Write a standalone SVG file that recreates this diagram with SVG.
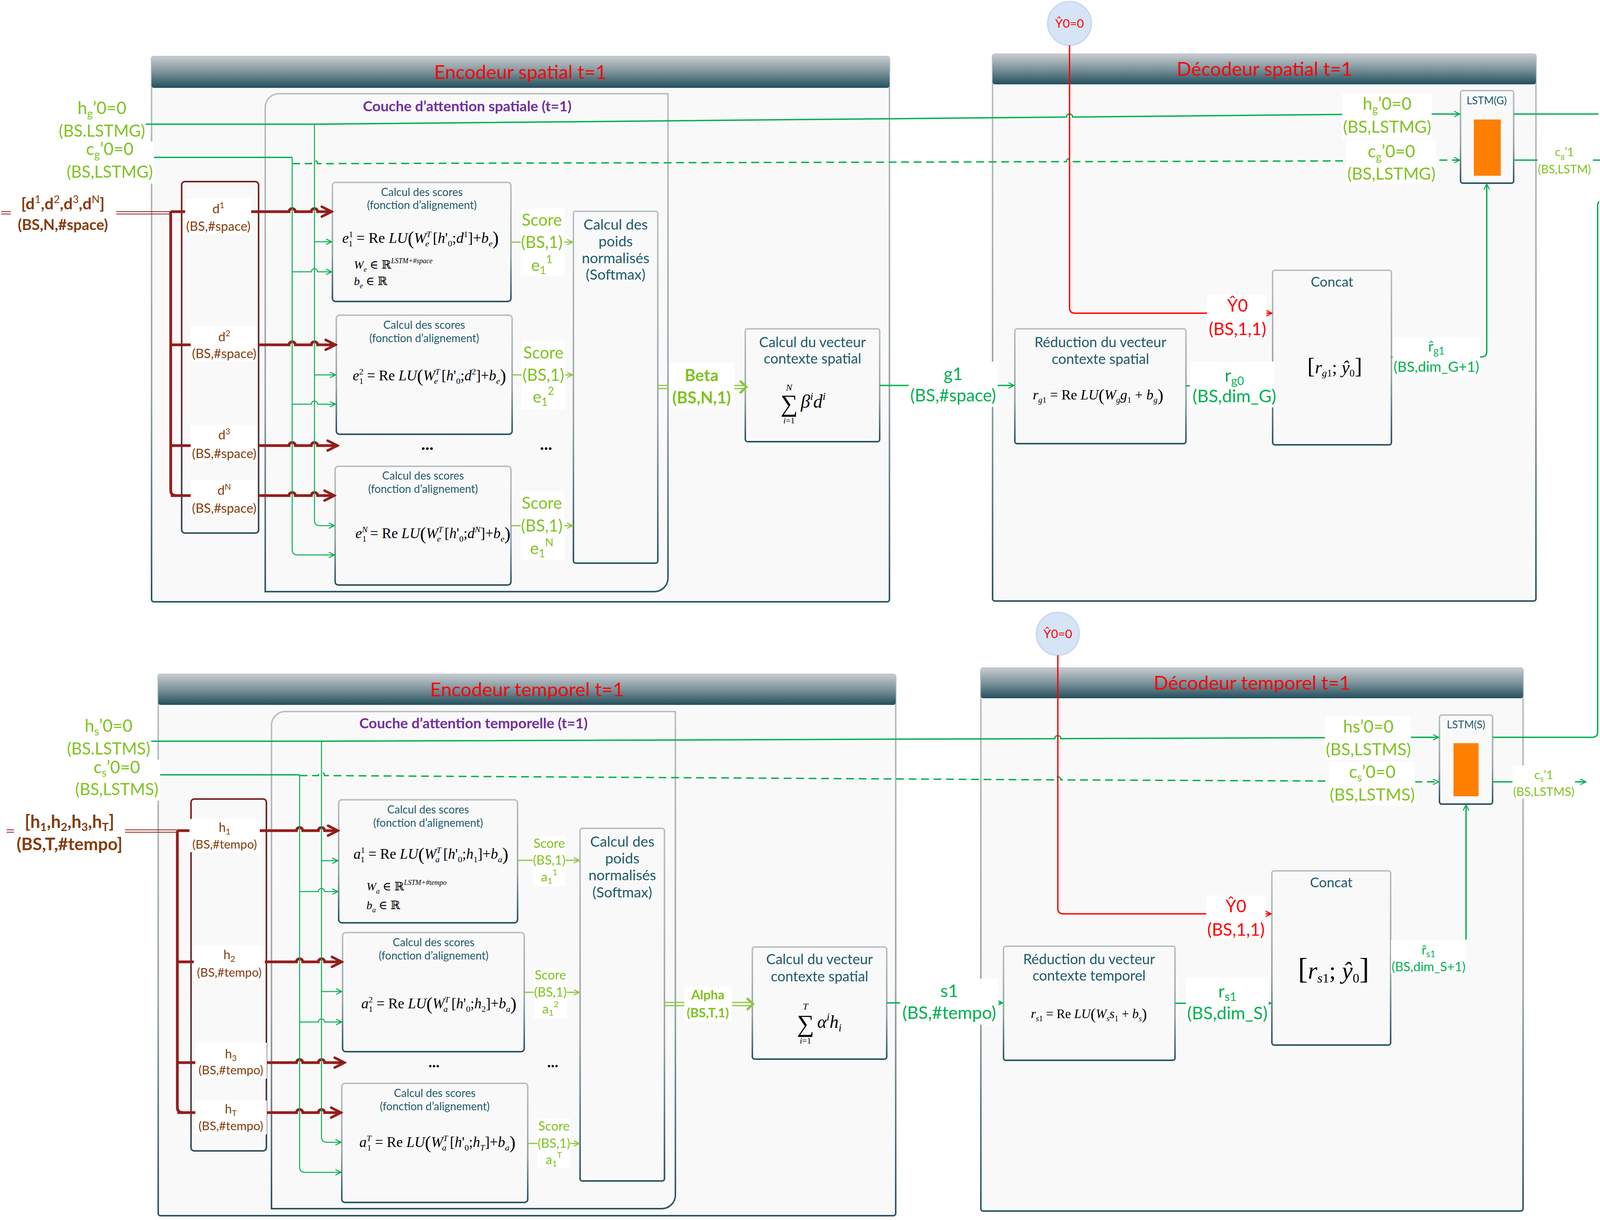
<svg xmlns="http://www.w3.org/2000/svg" width="5550" height="3124" viewBox="0 0 5550 3124">
<defs>
<linearGradient id="gh" x1="0" y1="0" x2="0" y2="1"><stop offset="0" stop-color="#c6cbcf"/><stop offset="0.5" stop-color="#7b929a"/><stop offset="1" stop-color="#23505e"/></linearGradient>
<linearGradient id="gs" x1="0" y1="0" x2="0" y2="1"><stop offset="0" stop-color="#bcc1c5"/><stop offset="0.6" stop-color="#9ba6ab"/><stop offset="1" stop-color="#2c5563"/></linearGradient>
<linearGradient id="gd" x1="0" y1="0" x2="0" y2="1"><stop offset="0" stop-color="#7a1f1f"/><stop offset="0.7" stop-color="#5a3030"/><stop offset="1" stop-color="#34505a"/></linearGradient>
<marker id="mg" viewBox="0 0 10 10" refX="9" refY="5" markerWidth="18" markerHeight="18" markerUnits="userSpaceOnUse" orient="auto"><path d="M1,1 L9,5 L1,9" fill="none" stroke="#00b050" stroke-width="1.4"/></marker>
<marker id="ml" viewBox="0 0 10 10" refX="9" refY="5" markerWidth="18" markerHeight="18" markerUnits="userSpaceOnUse" orient="auto"><path d="M1,1 L9,5 L1,9" fill="none" stroke="#8cc63f" stroke-width="1.4"/></marker>
<marker id="mr" viewBox="0 0 10 10" refX="9" refY="5" markerWidth="20" markerHeight="20" markerUnits="userSpaceOnUse" orient="auto"><path d="M1,1 L9,5 L1,9" fill="none" stroke="#ff0000" stroke-width="1.4"/></marker>
<marker id="md" viewBox="0 0 10 10" refX="8.5" refY="5" markerWidth="36" markerHeight="36" markerUnits="userSpaceOnUse" orient="auto"><path d="M1.5,1.5 L8.5,5 L1.5,8.5" fill="none" stroke="#951c1c" stroke-width="1.8" stroke-linecap="round"/></marker>
<style>
.t{font-family:Lato,"Open Sans","DejaVu Sans",sans-serif}
.f{font-family:"Liberation Serif","DejaVu Serif",serif;fill:#000}
.i{font-style:italic}
.box{fill:#f9f9f9;stroke:url(#gs);stroke-width:4}
.hdr{fill:url(#gh)}
.bg{fill:#ffffff}
.tl{fill:#1f5b6b;text-anchor:middle}
.lg{fill:#7fc31f;text-anchor:middle}
.mgt{fill:#00b050;text-anchor:middle}
.rt{fill:#ff0000;text-anchor:middle}
.br{fill:#843c0c;text-anchor:middle}
.pu{fill:#7030a0;text-anchor:middle;font-weight:bold}
.cg{fill:none;stroke:#00b050;stroke-width:3.5}
.cv{fill:none;stroke:#00b050;stroke-width:2.5}
.cl{fill:none;stroke:#8cc63f;stroke-width:3}
.cd{fill:none;stroke:#951c1c;stroke-width:7}
.cr{fill:none;stroke:#ff0000;stroke-width:3.5}
.dash{stroke-dasharray:20 12}
.circ{fill:#d6e4f5;stroke:#c3d6ee;stroke-width:3}
</style>
</defs>
<rect width="5550" height="3124" fill="#ffffff"/>

<!-- containers -->
<g id="encodeur-spatial">
<rect class="box" x="388" y="145" width="1889" height="1396" rx="6"/>
<rect class="hdr" x="388" y="145" width="1889" height="80" rx="6"/>
<text class="t rt" x="1332" y="202" font-size="49">Encodeur spatial t=1</text>
</g>
<g id="couche-spatiale">
<path class="box" d="M679,275 A35,35 0 0 1 714,240 H1710 V1480 A35,35 0 0 1 1675,1515 H679 Z"/>
<text class="t pu" x="1196" y="285" font-size="37">Couche d’attention spatiale (t=1)</text>
</g>
<g id="decodeur-spatial">
<rect class="box" x="2541" y="139" width="1391" height="1400" rx="6"/>
<rect class="hdr" x="2541" y="139" width="1391" height="77" rx="6"/>
<text class="t rt" x="3237" y="194" font-size="49">Décodeur spatial t=1</text>
</g>
<g id="encodeur-temporel">
<rect class="box" x="405" y="1727" width="1888" height="1386" rx="6"/>
<rect class="hdr" x="405" y="1727" width="1888" height="78" rx="6"/>
<text class="t rt" x="1349" y="1783" font-size="49">Encodeur temporel t=1</text>
</g>
<g id="couche-temporelle">
<path class="box" d="M695,1857 A35,35 0 0 1 730,1822 H1729 V3060 A35,35 0 0 1 1694,3095 H695 Z"/>
<text class="t pu" x="1212" y="1865" font-size="37">Couche d’attention temporelle (t=1)</text>
</g>
<g id="decodeur-temporel">
<rect class="box" x="2511" y="1711" width="1388" height="1390" rx="6"/>
<rect class="hdr" x="2511" y="1711" width="1388" height="77" rx="6"/>
<text class="t rt" x="3205" y="1766" font-size="49">Décodeur temporel t=1</text>
</g>

<!-- inner nodes -->
<g id="d-box"><rect x="465" y="465" width="197" height="900" rx="8" fill="none" stroke="url(#gd)" stroke-width="4"/></g>
<g id="h-box"><rect x="489" y="2046" width="193" height="901" rx="8" fill="none" stroke="url(#gd)" stroke-width="4"/></g>

<g id="score-e1">
<rect class="box" x="851" y="467" width="457" height="305" rx="8"/>
<text class="t tl" x="1080" y="502" font-size="28">Calcul des scores</text>
<text class="t tl" x="1080" y="535" font-size="28">(fonction d’alignement)</text>
<text class="f" x="876" y="622" font-size="38"><tspan class="i">e</tspan><tspan font-size="22" dy="-15">1</tspan><tspan font-size="22" dx="-11" dy="24">1</tspan><tspan dy="-9"> = Re </tspan><tspan class="i">LU</tspan><tspan font-size="48" dy="4">(</tspan><tspan class="i" dy="-4">W</tspan><tspan class="i" font-size="22" dy="-15">T</tspan><tspan class="i" font-size="22" dx="-13" dy="24">e</tspan><tspan dy="-9"> [</tspan><tspan class="i">h</tspan>'<tspan font-size="22" dy="9">0</tspan><tspan dy="-9">;</tspan><tspan class="i">d</tspan><tspan font-size="22" dy="-15">1</tspan><tspan dy="15">]+</tspan><tspan class="i">b</tspan><tspan class="i" font-size="22" dy="9">e</tspan><tspan font-size="48" dy="-5">)</tspan></text>
<text class="f" x="906" y="688" font-size="30"><tspan class="i">W</tspan><tspan class="i" font-size="18" dy="8">e</tspan><tspan dy="-8"> ∈ ℝ</tspan><tspan class="i" font-size="18" dy="-14">LSTM+#space</tspan></text>
<text class="f" x="906" y="730" font-size="30"><tspan class="i">b</tspan><tspan class="i" font-size="18" dy="8">e</tspan><tspan dy="-8"> ∈ ℝ</tspan></text>
</g>
<g id="score-e2">
<rect class="box" x="861" y="807" width="450" height="305" rx="8"/>
<text class="t tl" x="1086" y="842" font-size="28">Calcul des scores</text>
<text class="t tl" x="1086" y="876" font-size="28">(fonction d’alignement)</text>
<text class="f" x="903" y="974" font-size="37"><tspan class="i">e</tspan><tspan font-size="22" dy="-15">2</tspan><tspan font-size="22" dx="-11" dy="24">1</tspan><tspan dy="-9"> = Re </tspan><tspan class="i">LU</tspan><tspan font-size="47" dy="4">(</tspan><tspan class="i" dy="-4">W</tspan><tspan class="i" font-size="22" dy="-15">T</tspan><tspan class="i" font-size="22" dx="-13" dy="24">e</tspan><tspan dy="-9"> [</tspan><tspan class="i">h</tspan>'<tspan font-size="22" dy="9">0</tspan><tspan dy="-9">;</tspan><tspan class="i">d</tspan><tspan font-size="22" dy="-15">2</tspan><tspan dy="15">]+</tspan><tspan class="i">b</tspan><tspan class="i" font-size="22" dy="9">e</tspan><tspan font-size="47" dy="-5">)</tspan></text>
</g>
<g id="score-eN">
<rect class="box" x="858" y="1194" width="450" height="304" rx="8"/>
<text class="t tl" x="1083" y="1228" font-size="28">Calcul des scores</text>
<text class="t tl" x="1083" y="1262" font-size="28">(fonction d’alignement)</text>
<text class="f" x="910" y="1378" font-size="37"><tspan class="i">e</tspan><tspan class="i" font-size="22" dy="-15">N</tspan><tspan font-size="22" dx="-14" dy="24">1</tspan><tspan dy="-9"> = Re </tspan><tspan class="i">LU</tspan><tspan font-size="47" dy="4">(</tspan><tspan class="i" dy="-4">W</tspan><tspan class="i" font-size="22" dy="-15">T</tspan><tspan class="i" font-size="22" dx="-13" dy="24">e</tspan><tspan dy="-9"> [</tspan><tspan class="i">h</tspan>'<tspan font-size="22" dy="9">0</tspan><tspan dy="-9">;</tspan><tspan class="i">d</tspan><tspan class="i" font-size="22" dy="-15">N</tspan><tspan dy="15">]+</tspan><tspan class="i">b</tspan><tspan class="i" font-size="22" dy="9">e</tspan><tspan font-size="47" dy="-5">)</tspan></text>
</g>
<g id="softmax-spatial">
<rect class="box" x="1468" y="541" width="216" height="901" rx="6"/>
<text class="t tl" x="1576" y="588" font-size="37">Calcul des</text>
<text class="t tl" x="1576" y="631" font-size="37">poids</text>
<text class="t tl" x="1576" y="674" font-size="37">normalisés</text>
<text class="t tl" x="1576" y="716" font-size="37">(Softmax)</text>
</g>
<g id="contexte-spatial">
<rect class="box" x="1908" y="842" width="344" height="289" rx="6"/>
<text class="t tl" x="2080" y="889" font-size="36">Calcul du vecteur</text>
<text class="t tl" x="2080" y="931" font-size="36">contexte spatial</text>
<text class="f" x="2020" y="1054" font-size="62" text-anchor="middle">∑</text>
<text class="f i" x="2020" y="1000" font-size="24" text-anchor="middle">N</text>
<text class="f" x="2020" y="1084" font-size="22" text-anchor="middle"><tspan class="i">i</tspan>=1</text>
<text class="f i" x="2050" y="1044" font-size="48">β<tspan font-size="28" dy="-20">i</tspan><tspan dy="20">d</tspan><tspan font-size="28" dy="-20">i</tspan></text>
</g>
<g id="reduction-spatial">
<rect class="box" x="2598" y="842" width="438" height="294" rx="6"/>
<text class="t tl" x="2817" y="889" font-size="36">Réduction du vecteur</text>
<text class="t tl" x="2817" y="932" font-size="36">contexte spatial</text>
<text class="f" x="2644" y="1023" font-size="36"><tspan class="i">r</tspan><tspan class="i" font-size="21" dy="8">g</tspan><tspan font-size="21">1</tspan><tspan dy="-8"> = Re </tspan><tspan class="i">LU</tspan><tspan font-size="45" dy="4">(</tspan><tspan class="i" dy="-4">W</tspan><tspan class="i" font-size="21" dy="8">g</tspan><tspan class="i" dy="-8">g</tspan><tspan font-size="21" dy="8">1</tspan><tspan dy="-8"> + </tspan><tspan class="i">b</tspan><tspan class="i" font-size="21" dy="8">g</tspan><tspan font-size="45" dy="-4">)</tspan></text>
</g>
<g id="concat-spatial">
<rect class="box" x="3258" y="692" width="304" height="447" rx="6"/>
<text class="t tl" x="3410" y="734" font-size="35">Concat</text>
<text class="f" x="3417" y="956" font-size="46" text-anchor="middle"><tspan font-size="58">[</tspan><tspan class="i">r</tspan><tspan class="i" font-size="26" dy="8">g</tspan><tspan font-size="26">1</tspan><tspan dy="-8">; </tspan><tspan class="i">ŷ</tspan><tspan font-size="26" dy="8">0</tspan><tspan font-size="58" dy="-8">]</tspan></text>
</g>
<g id="lstm-g">
<rect class="box" x="3739" y="232" width="136" height="237" rx="6"/>
<text class="t tl" x="3806" y="267" font-size="27">LSTM(G)</text>
<rect x="3773" y="306" width="69" height="144" fill="#ff7f00"/>
</g>
<g id="y0-spatial">
<circle class="circ" cx="2738" cy="60" r="56"/>
<text class="t rt" x="2738" y="71" font-size="31">Ŷ0=0</text>
</g>
<g id="concat-final">
<rect class="box" x="4335" y="179" width="304" height="447" rx="6"/>
<text class="t tl" x="4487" y="221" font-size="34">Concat</text>
<text class="f" x="4487" y="428" font-size="56" text-anchor="middle"><tspan font-size="70">[</tspan><tspan class="i">h</tspan>'<tspan font-size="30" dy="-20">1</tspan><tspan class="i" font-size="30" dx="-14" dy="38">g</tspan><tspan dy="-18">;</tspan><tspan class="i">h</tspan>'<tspan font-size="30" dy="-20">1</tspan><tspan class="i" font-size="30" dx="-14" dy="38">s</tspan><tspan font-size="70" dy="-18">]</tspan></text>
</g>
<g id="generateur">
<rect class="box" x="4987" y="222" width="305" height="360" rx="6"/>
<text class="t tl" x="5140" y="265" font-size="35">Générateur</text>
<path class="box" d="M5005,354 A30,30 0 0 1 5035,324 H5268 V455 A30,30 0 0 1 5238,485 H5005 Z"/>
<text class="t tl" x="5137" y="380" font-size="45">Dense</text>
<text class="t tl" x="5137" y="438" font-size="45">(1)</text>
</g>
<g id="y1-out">
<circle class="circ" cx="5518" cy="402" r="28"/>
<text class="t rt" x="5518" y="412" font-size="26">Ŷ1</text>
</g>

<g id="score-a1">
<rect class="box" x="867" y="2048" width="458" height="315" rx="8"/>
<text class="t tl" x="1096" y="2083" font-size="28">Calcul des scores</text>
<text class="t tl" x="1096" y="2117" font-size="28">(fonction d’alignement)</text>
<text class="f" x="905" y="2199" font-size="37"><tspan class="i">a</tspan><tspan font-size="22" dy="-15">1</tspan><tspan font-size="22" dx="-11" dy="24">1</tspan><tspan dy="-9"> = Re </tspan><tspan class="i">LU</tspan><tspan font-size="47" dy="4">(</tspan><tspan class="i" dy="-4">W</tspan><tspan class="i" font-size="22" dy="-15">T</tspan><tspan class="i" font-size="22" dx="-13" dy="24">a</tspan><tspan dy="-9"> [</tspan><tspan class="i">h</tspan>'<tspan font-size="22" dy="9">0</tspan><tspan dy="-9">;</tspan><tspan class="i">h</tspan><tspan font-size="22" dy="9">1</tspan><tspan dy="-9">]+</tspan><tspan class="i">b</tspan><tspan class="i" font-size="22" dy="9">a</tspan><tspan font-size="47" dy="-5">)</tspan></text>
<text class="f" x="938" y="2280" font-size="30"><tspan class="i">W</tspan><tspan class="i" font-size="18" dy="8">a</tspan><tspan dy="-8"> ∈ ℝ</tspan><tspan class="i" font-size="18" dy="-14">LSTM+#tempo</tspan></text>
<text class="f" x="938" y="2328" font-size="30"><tspan class="i">b</tspan><tspan class="i" font-size="18" dy="8">a</tspan><tspan dy="-8"> ∈ ℝ</tspan></text>
</g>
<g id="score-a2">
<rect class="box" x="877" y="2388" width="465" height="305" rx="8"/>
<text class="t tl" x="1110" y="2423" font-size="28">Calcul des scores</text>
<text class="t tl" x="1110" y="2457" font-size="28">(fonction d’alignement)</text>
<text class="f" x="925" y="2582" font-size="37"><tspan class="i">a</tspan><tspan font-size="22" dy="-15">2</tspan><tspan font-size="22" dx="-11" dy="24">1</tspan><tspan dy="-9"> = Re </tspan><tspan class="i">LU</tspan><tspan font-size="47" dy="4">(</tspan><tspan class="i" dy="-4">W</tspan><tspan class="i" font-size="22" dy="-15">T</tspan><tspan class="i" font-size="22" dx="-13" dy="24">a</tspan><tspan dy="-9"> [</tspan><tspan class="i">h</tspan>'<tspan font-size="22" dy="9">0</tspan><tspan dy="-9">;</tspan><tspan class="i">h</tspan><tspan font-size="22" dy="9">2</tspan><tspan dy="-9">]+</tspan><tspan class="i">b</tspan><tspan class="i" font-size="22" dy="9">a</tspan><tspan font-size="47" dy="-5">)</tspan></text>
</g>
<g id="score-aT">
<rect class="box" x="875" y="2774" width="476" height="305" rx="8"/>
<text class="t tl" x="1113" y="2809" font-size="28">Calcul des scores</text>
<text class="t tl" x="1113" y="2843" font-size="28">(fonction d’alignement)</text>
<text class="f" x="920" y="2937" font-size="37"><tspan class="i">a</tspan><tspan class="i" font-size="22" dy="-15">T</tspan><tspan font-size="22" dx="-11" dy="24">1</tspan><tspan dy="-9"> = Re </tspan><tspan class="i">LU</tspan><tspan font-size="47" dy="4">(</tspan><tspan class="i" dy="-4">W</tspan><tspan class="i" font-size="22" dy="-15">T</tspan><tspan class="i" font-size="22" dx="-13" dy="24">a</tspan><tspan dy="-9"> [</tspan><tspan class="i">h</tspan>'<tspan font-size="22" dy="9">0</tspan><tspan dy="-9">;</tspan><tspan class="i">h</tspan><tspan class="i" font-size="22" dy="9">T</tspan><tspan dy="-9">]+</tspan><tspan class="i">b</tspan><tspan class="i" font-size="22" dy="9">a</tspan><tspan font-size="47" dy="-5">)</tspan></text>
</g>
<g id="softmax-temporel">
<rect class="box" x="1485" y="2121" width="216" height="903" rx="6"/>
<text class="t tl" x="1593" y="2168" font-size="37">Calcul des</text>
<text class="t tl" x="1593" y="2211" font-size="37">poids</text>
<text class="t tl" x="1593" y="2254" font-size="37">normalisés</text>
<text class="t tl" x="1593" y="2298" font-size="37">(Softmax)</text>
</g>
<g id="contexte-temporel">
<rect class="box" x="1926" y="2425" width="344" height="287" rx="6"/>
<text class="t tl" x="2098" y="2469" font-size="36">Calcul du vecteur</text>
<text class="t tl" x="2098" y="2513" font-size="36">contexte spatial</text>
<text class="f" x="2062" y="2642" font-size="62" text-anchor="middle">∑</text>
<text class="f i" x="2062" y="2585" font-size="24" text-anchor="middle">T</text>
<text class="f" x="2062" y="2672" font-size="22" text-anchor="middle"><tspan class="i">i</tspan>=1</text>
<text class="f i" x="2092" y="2632" font-size="46">α<tspan font-size="27" dy="-19">i</tspan><tspan dy="19">h</tspan><tspan font-size="27" dy="9">i</tspan></text>
</g>
<g id="reduction-temporel">
<rect class="box" x="2569" y="2423" width="439" height="292" rx="6"/>
<text class="t tl" x="2788" y="2469" font-size="36">Réduction du vecteur</text>
<text class="t tl" x="2788" y="2511" font-size="36">contexte temporel</text>
<text class="f" x="2639" y="2607" font-size="33"><tspan class="i">r</tspan><tspan class="i" font-size="20" dy="8">s</tspan><tspan font-size="20">1</tspan><tspan dy="-8"> = Re </tspan><tspan class="i">LU</tspan><tspan font-size="40" dy="3">(</tspan><tspan class="i" dy="-3">W</tspan><tspan class="i" font-size="20" dy="8">s</tspan><tspan class="i" dy="-8">s</tspan><tspan font-size="20" dy="8">1</tspan><tspan dy="-8"> + </tspan><tspan class="i">b</tspan><tspan class="i" font-size="20" dy="8">s</tspan><tspan font-size="40" dy="-5">)</tspan></text>
</g>
<g id="concat-temporel">
<rect class="box" x="3256" y="2230" width="304" height="446" rx="6"/>
<text class="t tl" x="3408" y="2272" font-size="35">Concat</text>
<text class="f" x="3414" y="2506" font-size="62" text-anchor="middle"><tspan font-size="76">[</tspan><tspan class="i">r</tspan><tspan class="i" font-size="34" dy="10">s</tspan><tspan font-size="34">1</tspan><tspan dy="-10">; </tspan><tspan class="i">ŷ</tspan><tspan font-size="34" dy="10">0</tspan><tspan font-size="76" dy="-10">]</tspan></text>
</g>
<g id="lstm-s">
<rect class="box" x="3685" y="1831" width="136" height="228" rx="6"/>
<text class="t tl" x="3753" y="1865" font-size="27">LSTM(S)</text>
<rect x="3721" y="1903" width="64" height="136" fill="#ff7f00"/>
</g>
<g id="y0-temporel">
<circle class="circ" cx="2708" cy="1623" r="55"/>
<text class="t rt" x="2708" y="1634" font-size="31">Ŷ0=0</text>
</g>

<!-- connectors -->
<g id="connectors">
<path d="M3,542 H437 M3,548 H437" stroke="#951c1c" stroke-width="2" fill="none"/>
<path class="cd" d="M437,543 V1255 Q437,1269 451,1269"/>
<path class="cd" marker-end="url(#md)" d="M437,542 H740 a8,8 0 0 1 16,0 H797 a8,8 0 0 1 16,0 H849"/>
<path class="cd" marker-end="url(#md)" d="M437,883 H740 a8,8 0 0 1 16,0 H797 a8,8 0 0 1 16,0 H859"/>
<path class="cd" marker-end="url(#md)" d="M437,1141 H740 a8,8 0 0 1 16,0 H797 a8,8 0 0 1 16,0 H864"/>
<path class="cd" marker-end="url(#md)" d="M437,1269 H740 a8,8 0 0 1 16,0 H797 a8,8 0 0 1 16,0 H856"/>
<path class="cg" d="M373,318 H807 L2730,299.7 a8,8 0 0 1 16,0 L3438,293"/>
<path class="cg" d="M394,403 H748"/>
<path class="cg dash" d="M748,419 H797 a8,8 0 0 1 16,0 L2730,414 a8,8 0 0 1 16,0 L3448,412"/>
<path class="cv" marker-end="url(#mg)" d="M805,318 V1332 Q805,1346 819,1346 H856"/>
<path class="cv" marker-end="url(#mg)" d="M748,403 V1407 Q748,1421 762,1421 H856"/>
<path class="cv" marker-end="url(#mg)" d="M805,619 H849"/>
<path class="cv" marker-end="url(#mg)" d="M805,960 H859"/>
<path class="cv" marker-end="url(#mg)" d="M748,696 H797 a8,8 0 0 1 16,0 H849"/>
<path class="cv" marker-end="url(#mg)" d="M748,1035 H797 a8,8 0 0 1 16,0 H859"/>
<path class="cl" marker-end="url(#ml)" d="M1308,620 H1466"/>
<path class="cl" marker-end="url(#ml)" d="M1311,960 H1466"/>
<path class="cl" marker-end="url(#ml)" d="M1308,1346 H1466"/>
<path d="M1684,987 H1905 M1684,995 H1905" stroke="#8cc63f" stroke-width="3" fill="none"/>
<path d="M1894,975 L1911,991 L1894,1007" stroke="#8cc63f" stroke-width="6" fill="none"/>
<path class="cg" marker-end="url(#mg)" d="M2252,987 H2596"/>
<path class="cr" marker-end="url(#mr)" d="M2738,116 V788 Q2738,802 2752,802 H3256"/>
<path class="cg" marker-end="url(#mg)" d="M3036,988 H3256"/>
<path class="cg" marker-end="url(#mg)" d="M3562,914 H3792 Q3806,914 3806,900 V471"/>
<path class="cg" marker-end="url(#mg)" d="M3663,292 H3737"/>
<path class="cg dash" marker-end="url(#mg)" d="M3685,410 H3737"/>
<path class="cg" marker-end="url(#mg)" d="M3875,292 H4333"/>
<path class="cg" marker-end="url(#mg)" d="M3875,410 H4123"/>
<path class="cg" marker-end="url(#mg)" d="M3821,1888 H4076 Q4090,1888 4090,1874 V527 Q4090,513 4104,513 H4333"/>
<path class="cg" marker-end="url(#mg)" d="M4639,402 H4985"/>
<path class="cr" marker-end="url(#mr)" d="M5268,402 H5488"/>
<path d="M17,2125 H454 M17,2131 H454" stroke="#951c1c" stroke-width="2" fill="none"/>
<path class="cd" d="M454,2127 V2835 Q454,2849 468,2849"/>
<path class="cd" marker-end="url(#md)" d="M454,2127 H759 a8,8 0 0 1 16,0 H815 a8,8 0 0 1 16,0 H865"/>
<path class="cd" marker-end="url(#md)" d="M454,2463 H759 a8,8 0 0 1 16,0 H815 a8,8 0 0 1 16,0 H875"/>
<path class="cd" marker-end="url(#md)" d="M454,2721 H759 a8,8 0 0 1 16,0 H815 a8,8 0 0 1 16,0 H882"/>
<path class="cd" marker-end="url(#md)" d="M454,2849 H759 a8,8 0 0 1 16,0 H815 a8,8 0 0 1 16,0 H873"/>
<path class="cg" d="M387,1898 H823 L2700,1891.4 a8,8 0 0 1 16,0 L3394,1889"/>
<path class="cg" d="M408,1984 H767"/>
<path class="cg dash" d="M767,1986 H815 a8,8 0 0 1 16,0 L2700,1997 a8,8 0 0 1 16,0 L3404,2000"/>
<path class="cv" marker-end="url(#mg)" d="M823,1898 V2911 Q823,2925 837,2925 H873"/>
<path class="cv" marker-end="url(#mg)" d="M767,1984 V2988 Q767,3002 781,3002 H873"/>
<path class="cv" marker-end="url(#mg)" d="M823,2204 H865"/>
<path class="cv" marker-end="url(#mg)" d="M823,2539 H875"/>
<path class="cv" marker-end="url(#mg)" d="M767,2283 H815 a8,8 0 0 1 16,0 H865"/>
<path class="cv" marker-end="url(#mg)" d="M767,2617 H815 a8,8 0 0 1 16,0 H875"/>
<path class="cl" marker-end="url(#ml)" d="M1325,2203 H1483"/>
<path class="cl" marker-end="url(#ml)" d="M1342,2541 H1483"/>
<path class="cl" marker-end="url(#ml)" d="M1351,2928 H1483"/>
<path d="M1701,2567 H1922 M1701,2575 H1922" stroke="#8cc63f" stroke-width="3" fill="none"/>
<path d="M1912,2556 L1928,2571 L1912,2586" stroke="#8cc63f" stroke-width="6" fill="none"/>
<path class="cg" marker-end="url(#mg)" d="M2270,2568 H2567"/>
<path class="cr" marker-end="url(#mr)" d="M2708,1678 V2326 Q2708,2340 2722,2340 H3254"/>
<path class="cg" marker-end="url(#mg)" d="M3008,2569 H3254"/>
<path class="cg" marker-end="url(#mg)" d="M3560,2455 H3739 Q3753,2455 3753,2441 V2061"/>
<path class="cg" marker-end="url(#mg)" d="M3610,1888 H3683"/>
<path class="cg dash" marker-end="url(#mg)" d="M3621,2002 H3683"/>
<path class="cg" marker-end="url(#mg)" d="M3821,2002 H4060"/>
</g>

<!-- labels -->
<g id="labels">
<rect class="bg" x="148" y="255" width="224" height="105"/>
<text class="t lg" x="261" y="292" font-size="44">h<tspan font-size="28" dy="9">g</tspan><tspan dy="-9">’0=0</tspan></text>
<text class="t lg" x="261" y="350" font-size="42">(BS.LSTMG)</text>
<rect class="bg" x="150" y="362" width="244" height="108"/>
<text class="t lg" x="281" y="397" font-size="44">c<tspan font-size="28" dy="9">g</tspan><tspan dy="-9">’0=0</tspan></text>
<text class="t lg" x="281" y="455" font-size="42">(BS,LSTMG)</text>
<rect class="bg" x="28" y="492" width="270" height="108"/>
<text class="t br" x="161" y="536" font-size="41" font-weight="bold">[d<tspan font-size="27" font-weight="normal" dy="-16">1</tspan><tspan dy="16">,d</tspan><tspan font-size="27" font-weight="normal" dy="-16">2</tspan><tspan dy="16">,d</tspan><tspan font-size="27" font-weight="normal" dy="-16">3</tspan><tspan dy="16">,d</tspan><tspan font-size="27" font-weight="normal" dy="-16">N</tspan><tspan dy="16">]</tspan></text>
<text class="t br" x="161" y="589" font-size="38" font-weight="bold">(BS,N,#space)</text>

<rect class="bg" x="474" y="508" width="169" height="92"/>
<text class="t br" x="559" y="546" font-size="33">d<tspan font-size="21" dy="-13">1</tspan></text>
<text class="t br" x="559" y="591" font-size="33">(BS,#space)</text>
<rect class="bg" x="488" y="835" width="172" height="90"/>
<text class="t br" x="574" y="874" font-size="33">d<tspan font-size="21" dy="-13">2</tspan></text>
<text class="t br" x="574" y="917" font-size="33">(BS,#space)</text>
<rect class="bg" x="488" y="1088" width="172" height="94"/>
<text class="t br" x="574" y="1125" font-size="33">d<tspan font-size="21" dy="-13">3</tspan></text>
<text class="t br" x="574" y="1173" font-size="33">(BS,#space)</text>
<rect class="bg" x="488" y="1230" width="172" height="90"/>
<text class="t br" x="574" y="1267" font-size="33">d<tspan font-size="21" dy="-13">N</tspan></text>
<text class="t br" x="574" y="1313" font-size="33">(BS,#space)</text>

<text class="t" x="1094" y="1152" font-size="44" font-weight="bold" text-anchor="middle">...</text>
<text class="t" x="1398" y="1152" font-size="44" font-weight="bold" text-anchor="middle">...</text>

<rect class="bg" x="1333" y="533" width="112" height="175"/>
<text class="t lg" x="1387" y="578" font-size="42">Score</text>
<text class="t lg" x="1387" y="635" font-size="42">(BS,1)</text>
<text class="t lg" x="1387" y="694" font-size="42">e<tspan font-size="28" dy="8">1</tspan><tspan font-size="28" dy="-28">1</tspan></text>
<rect class="bg" x="1335" y="873" width="112" height="175"/>
<text class="t lg" x="1391" y="918" font-size="42">Score</text>
<text class="t lg" x="1391" y="975" font-size="42">(BS,1)</text>
<text class="t lg" x="1391" y="1031" font-size="42">e<tspan font-size="28" dy="8">1</tspan><tspan font-size="28" dy="-28">2</tspan></text>
<rect class="bg" x="1333" y="1258" width="112" height="176"/>
<text class="t lg" x="1387" y="1303" font-size="42">Score</text>
<text class="t lg" x="1387" y="1361" font-size="42">(BS,1)</text>
<text class="t lg" x="1387" y="1419" font-size="42">e<tspan font-size="28" dy="8">1</tspan><tspan font-size="28" dy="-28">N</tspan></text>

<rect class="bg" x="1712" y="930" width="168" height="116"/>
<text class="t lg" x="1796" y="976" font-size="42" font-weight="bold">Beta</text>
<text class="t lg" x="1796" y="1033" font-size="42" font-weight="bold">(BS,N,1)</text>
<rect class="bg" x="2326" y="926" width="228" height="116"/>
<text class="t mgt" x="2440" y="973" font-size="44">g1</text>
<text class="t mgt" x="2440" y="1028" font-size="44">(BS,#space)</text>

<rect class="bg" x="3436" y="240" width="229" height="115"/>
<text class="t lg" x="3551" y="281" font-size="44">h<tspan font-size="28" dy="9">g</tspan><tspan dy="-9">’0=0</tspan></text>
<text class="t lg" x="3551" y="340" font-size="43">(BS,LSTMG)</text>
<rect class="bg" x="3446" y="358" width="231" height="112"/>
<text class="t lg" x="3562" y="403" font-size="44">c<tspan font-size="28" dy="9">g</tspan><tspan dy="-9">’0=0</tspan></text>
<text class="t lg" x="3562" y="460" font-size="43">(BS,LSTMG)</text>
<rect class="bg" x="3090" y="755" width="152" height="110"/>
<text class="t rt" x="3168" y="798" font-size="44">Ŷ0</text>
<text class="t rt" x="3168" y="858" font-size="44">(BS,1,1)</text>
<rect class="bg" x="3046" y="926" width="216" height="117"/>
<text class="t mgt" x="3160" y="977" font-size="45">r<tspan font-size="30" dy="9">g0</tspan></text>
<text class="t mgt" x="3160" y="1030" font-size="45">(BS,dim_G)</text>
<rect class="bg" x="3565" y="864" width="224" height="98"/>
<text class="t mgt" x="3677" y="900" font-size="37">r̂<tspan font-size="26" dy="8">g1</tspan></text>
<text class="t mgt" x="3677" y="952" font-size="37">(BS,dim_G+1)</text>

<rect class="bg" x="4092" y="255" width="168" height="90"/>
<text class="t lg" x="4176" y="293" font-size="30">h<tspan font-size="20" dy="7">g</tspan><tspan dy="-7">’1</tspan></text>
<text class="t lg" x="4176" y="334" font-size="30">(BS,LSTMG)</text>
<rect class="bg" x="3936" y="365" width="142" height="90"/>
<text class="t lg" x="4005" y="400" font-size="30">c<tspan font-size="20" dy="7">g</tspan><tspan dy="-7">’1</tspan></text>
<text class="t lg" x="4005" y="444" font-size="30">(BS,LSTM)</text>
<rect class="bg" x="4094" y="470" width="162" height="90"/>
<text class="t lg" x="4176" y="507" font-size="30">h<tspan font-size="20" dy="7">s</tspan><tspan dy="-7">’1</tspan></text>
<text class="t lg" x="4176" y="549" font-size="30">(BS,LSTMS)</text>
<rect class="bg" x="4660" y="360" width="280" height="90"/>
<text class="t lg" x="4800" y="394" font-size="31">Out_dec1</text>
<text class="t lg" x="4800" y="438" font-size="31">(BS,LSTMG+LSTMS)</text>
<rect class="bg" x="5400" y="370" width="78" height="60"/>
<text class="t rt" x="5437" y="393" font-size="22">Out</text>
<text class="t rt" x="5437" y="420" font-size="18">(BS,1,1)</text>

<rect class="bg" x="165" y="1830" width="222" height="113"/>
<text class="t lg" x="278" y="1874" font-size="44">h<tspan font-size="28" dy="9">s</tspan><tspan dy="-9">’0=0</tspan></text>
<text class="t lg" x="278" y="1932" font-size="42">(BS.LSTMS)</text>
<rect class="bg" x="185" y="1945" width="225" height="105"/>
<text class="t lg" x="299" y="1980" font-size="44">c<tspan font-size="28" dy="9">s</tspan><tspan dy="-9">’0=0</tspan></text>
<text class="t lg" x="299" y="2036" font-size="42">(BS,LSTMS)</text>
<rect class="bg" x="36" y="2074" width="284" height="118"/>
<text class="t br" x="178" y="2120" font-size="45" font-weight="bold">[h<tspan font-size="29" dy="8">1</tspan><tspan dy="-8">,h</tspan><tspan font-size="29" dy="8">2</tspan><tspan dy="-8">,h</tspan><tspan font-size="29" dy="8">3</tspan><tspan dy="-8">,h</tspan><tspan font-size="29" dy="8">T</tspan><tspan dy="-8">]</tspan></text>
<text class="t br" x="178" y="2177" font-size="44" font-weight="bold">(BS,T,#tempo]</text>

<rect class="bg" x="485" y="2097" width="180" height="85"/>
<text class="t br" x="575" y="2130" font-size="32">h<tspan font-size="21" dy="7">1</tspan></text>
<text class="t br" x="575" y="2173" font-size="31">(BS,#tempo)</text>
<rect class="bg" x="496" y="2420" width="182" height="90"/>
<text class="t br" x="587" y="2456" font-size="32">h<tspan font-size="21" dy="7">2</tspan></text>
<text class="t br" x="587" y="2501" font-size="31">(BS,#tempo)</text>
<rect class="bg" x="500" y="2670" width="183" height="92"/>
<text class="t br" x="591" y="2710" font-size="32">h<tspan font-size="21" dy="7">3</tspan></text>
<text class="t br" x="591" y="2751" font-size="31">(BS,#tempo)</text>
<rect class="bg" x="500" y="2818" width="183" height="87"/>
<text class="t br" x="591" y="2851" font-size="32">h<tspan font-size="21" dy="7">T</tspan></text>
<text class="t br" x="591" y="2894" font-size="31">(BS,#tempo)</text>

<text class="t" x="1111" y="2733" font-size="40" font-weight="bold" text-anchor="middle">...</text>
<text class="t" x="1415" y="2733" font-size="40" font-weight="bold" text-anchor="middle">...</text>

<rect class="bg" x="1364" y="2142" width="84" height="128"/>
<text class="t lg" x="1406" y="2171" font-size="33">Score</text>
<text class="t lg" x="1406" y="2214" font-size="33">(BS,1)</text>
<text class="t lg" x="1406" y="2257" font-size="33">a<tspan font-size="22" dy="6">1</tspan><tspan font-size="22" dy="-22">1</tspan></text>
<rect class="bg" x="1367" y="2478" width="84" height="129"/>
<text class="t lg" x="1409" y="2508" font-size="33">Score</text>
<text class="t lg" x="1409" y="2552" font-size="33">(BS,1)</text>
<text class="t lg" x="1409" y="2595" font-size="33">a<tspan font-size="22" dy="6">1</tspan><tspan font-size="22" dy="-22">2</tspan></text>
<rect class="bg" x="1376" y="2864" width="84" height="126"/>
<text class="t lg" x="1418" y="2895" font-size="33">Score</text>
<text class="t lg" x="1418" y="2939" font-size="33">(BS,1)</text>
<text class="t lg" x="1418" y="2981" font-size="33">a<tspan font-size="22" dy="6">1</tspan><tspan font-size="22" dy="-22">T</tspan></text>

<rect class="bg" x="1752" y="2527" width="122" height="88"/>
<text class="t lg" x="1812" y="2559" font-size="33" font-weight="bold">Alpha</text>
<text class="t lg" x="1812" y="2605" font-size="33" font-weight="bold">(BS,T,1)</text>
<rect class="bg" x="2304" y="2506" width="252" height="118"/>
<text class="t mgt" x="2430" y="2553" font-size="45">s1</text>
<text class="t mgt" x="2430" y="2609" font-size="45">(BS,#tempo)</text>

<rect class="bg" x="3392" y="1834" width="220" height="111"/>
<text class="t lg" x="3503" y="1876" font-size="44">hs’0=0</text>
<text class="t lg" x="3503" y="1934" font-size="43">(BS,LSTMS)</text>
<rect class="bg" x="3402" y="1950" width="221" height="112"/>
<text class="t lg" x="3513" y="1992" font-size="44">c<tspan font-size="28" dy="9">s</tspan><tspan dy="-9">’0=0</tspan></text>
<text class="t lg" x="3513" y="2050" font-size="43">(BS,LSTMS)</text>
<rect class="bg" x="3088" y="2293" width="152" height="110"/>
<text class="t rt" x="3164" y="2336" font-size="44">Ŷ0</text>
<text class="t rt" x="3164" y="2396" font-size="44">(BS,1,1)</text>
<rect class="bg" x="3036" y="2502" width="212" height="114"/>
<text class="t mgt" x="3142" y="2554" font-size="45">r<tspan font-size="30" dy="9">s1</tspan></text>
<text class="t mgt" x="3142" y="2610" font-size="45">(BS,dim_S)</text>
<rect class="bg" x="3561" y="2406" width="194" height="88"/>
<text class="t mgt" x="3657" y="2444" font-size="33">r̂<tspan font-size="23" dy="7">s1</tspan></text>
<text class="t mgt" x="3657" y="2487" font-size="33">(BS,dim_S+1)</text>
<rect class="bg" x="3872" y="1960" width="160" height="85"/>
<text class="t lg" x="3952" y="1995" font-size="31">c<tspan font-size="21" dy="7">s</tspan><tspan dy="-7">’1</tspan></text>
<text class="t lg" x="3952" y="2038" font-size="31">(BS,LSTMS)</text>
</g>
</svg>
